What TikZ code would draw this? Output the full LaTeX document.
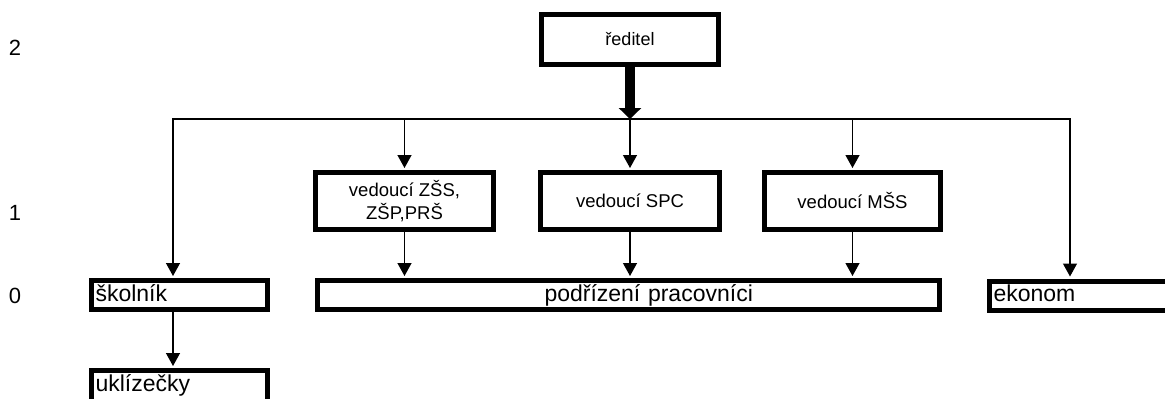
\documentclass[tikz,border=0pt]{standalone}
\usepackage{fontspec}
\setmainfont{Liberation Sans}
\usetikzlibrary{arrows.meta}
\begin{document}
\begin{tikzpicture}[x=1pt,y=-1pt,
  box/.style={draw,line width=5pt,inner sep=0pt,minimum height=57pt,font=\fontsize{18.5}{23}\selectfont},
  lowbox/.style={draw,line width=5pt,inner xsep=4pt,inner ysep=0pt,minimum height=29pt,align=left,
    font=\fontsize{23}{27}\selectfont,text height=16.5pt,text depth=4.5pt},
  conn/.style={line width=1.3pt,shorten >=2pt,-{Triangle[width=14pt,length=13pt]}},
  lvl/.style={font=\fontsize{22}{26}\selectfont,inner sep=0pt}]
\useasboundingbox (0,0) rectangle (1165,399);
\clip (0,0) rectangle (1165,399);
% level labels
\node[lvl] (l2) at (15,48) {2};
\node[lvl] (l1) at (15,213) {1};
\node[lvl] (l0) at (15,296) {0};
% boxes
\node[box,minimum width=177pt,minimum height=50pt,font=\fontsize{18}{21}\selectfont] (red) at (630,39.5) {ředitel};
\node[box,minimum width=178pt,align=center] (v1) at (404.5,201) {vedoucí ZŠS,\\ZŠP,PRŠ};
\node[box,minimum width=179pt] (v2) at (630,201) {vedoucí SPC};
\node[box,minimum width=176pt] (v3) at (852.5,201) {vedoucí MŠS};
\node[lowbox,text width=168pt] (sk) at (179.5,295) {školník};
\node[lowbox,text width=614pt] (pod) at (628.5,295) {\hspace*{223pt}podřízení pracovníci};
\node[lowbox,text width=175pt] (ek) at (1081,295.5) {ekonom};
\node[lowbox,text width=168pt,minimum height=40pt,text depth=15.5pt] (uk) at (179.5,390.5) {uklízečky};
% connectors
\coordinate (hub) at (630,119);
\draw[line width=10pt,-{Triangle[width=22pt,length=11pt]}] (red.south) -- (hub);
\draw[conn] (hub) -| ([xshift=-6.5pt]sk.north);
\draw[conn] (hub) -| (v1.north);
\draw[conn] (hub) -- (v2.north);
\draw[conn] (hub) -| (v3.north);
\draw[conn] (hub) -| ([xshift=-11pt]ek.north);
\draw[conn] (v1.south) -- (v1.south |- pod.north);
\draw[conn] (v2.south) -- (v2.south |- pod.north);
\draw[conn] (v3.south) -- (v3.south |- pod.north);
\draw[conn] ([xshift=-6.5pt]sk.south) -- ([xshift=-6.5pt]uk.north);
\end{tikzpicture}
\end{document}
